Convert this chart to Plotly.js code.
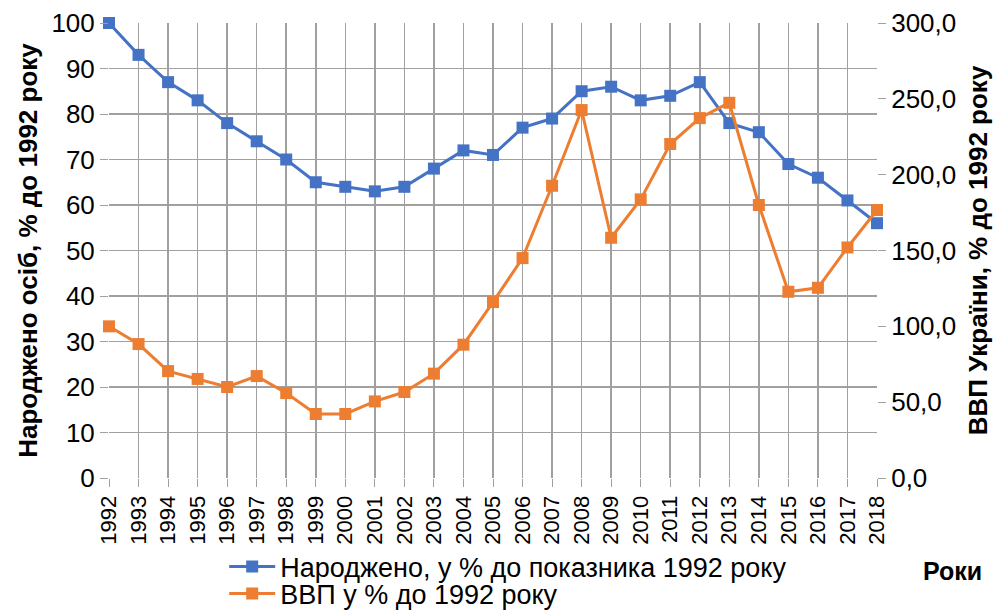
<!DOCTYPE html>
<html><head><meta charset="utf-8">
<script src="https://cdn.plot.ly/plotly-3.0.1.min.js"></script>
<style>body{margin:0;background:#fff}#c{width:995px;height:611px}</style>
</head><body><div id="c"></div>
<script>
const years = ['1992','1993','1994','1995','1996','1997','1998','1999','2000','2001','2002','2003','2004','2005','2006','2007','2008','2009','2010','2011','2012','2013','2014','2015','2016','2017','2018'];
const births = [100,93,87,83,78,74,70,65,64,63,64,68,72,71,77,79,85,86,83,84,87,78,76,69,66,61,56];
const gdp = [100,88.3,70.5,65.3,60,67.2,56,42.2,42.2,50.5,56.7,68.8,87.9,116,145,192.7,242.6,158.4,183.7,220.2,237.3,247.4,180,122.8,125.4,152,176.7];
const rightTicks = [0,50,100,150,200,250,300];
const rightTickText = ['0,0','50,0','100,0','150,0','200,0','250,0','300,0'];
const leftTicks = [0,10,20,30,40,50,60,70,80,90,100];

const F = 'Liberation Sans, Arial, sans-serif';
const traces = [
 {x: years, y: births, name: 'Народжено, у % до показника 1992 року', type:'scatter', mode:'lines+markers', cliponaxis:false,
  line:{color:'#4472C4', width:3}, marker:{symbol:'square', size:12, color:'#4472C4'}, yaxis:'y', legend:'legend'},
 {x: years, y: gdp, name: 'ВВП у % до 1992 року', type:'scatter', mode:'lines+markers', cliponaxis:false,
  line:{color:'#ED7D31', width:3}, marker:{symbol:'square', size:12, color:'#ED7D31'}, yaxis:'y2', legend:'legend2'}
];
const legCommon = {xref:'paper', yref:'container', xanchor:'left', yanchor:'middle', orientation:'v',
   font:{family:F, size:27}, itemwidth:46, bgcolor:'rgba(0,0,0,0)'};
const layout = {
 width:995, height:611, margin:{l:109, r:118, t:23, b:133, autoexpand:false},
 paper_bgcolor:'#fff', plot_bgcolor:'#fff',
 font:{family:F, color:'#000', size:20},
 showlegend:true,
 legend:Object.assign({x:0.150, y:1-567/611}, legCommon),
 legend2:Object.assign({x:0.150, y:1-594/611}, legCommon),
 xaxis:{type:'category', range:[0,26], showgrid:true, gridcolor:'#a0a0a0', gridwidth:1.5,
   tickangle:-90, ticks:'outside', ticklen:8, tickcolor:'#a0a0a0', tickfont:{size:22}, zeroline:false, showline:false, fixedrange:true},
 yaxis:{range:[0,100], tickvals:leftTicks, showgrid:true, gridcolor:'#a0a0a0', gridwidth:1.5,
   ticks:'outside', ticklen:8, tickcolor:'#a0a0a0', tickfont:{size:26}, zeroline:false,
   title:{text:'<b>Народжено осіб, % до 1992 року</b>', font:{size:26}, standoff:6}},
 yaxis2:{range:[0,300], overlaying:'y', side:'right', tickvals:rightTicks, ticktext:rightTickText, showgrid:false,
   ticks:'outside', ticklen:8, tickcolor:'#a0a0a0', tickfont:{size:26}, zeroline:false, showline:false,
   title:{text:'<b>ВВП України, % до 1992 року</b>', font:{size:26}, standoff:13}},
 annotations:[{text:'<b>Роки</b>', xref:'paper', yref:'paper', x:(984-109)/768, y:(478-571)/455, xanchor:'right', yanchor:'middle',
   showarrow:false, font:{size:25}}]
};
Plotly.newPlot('c', traces, layout, {displayModeBar:false, staticPlot:true});
</script></body></html>
